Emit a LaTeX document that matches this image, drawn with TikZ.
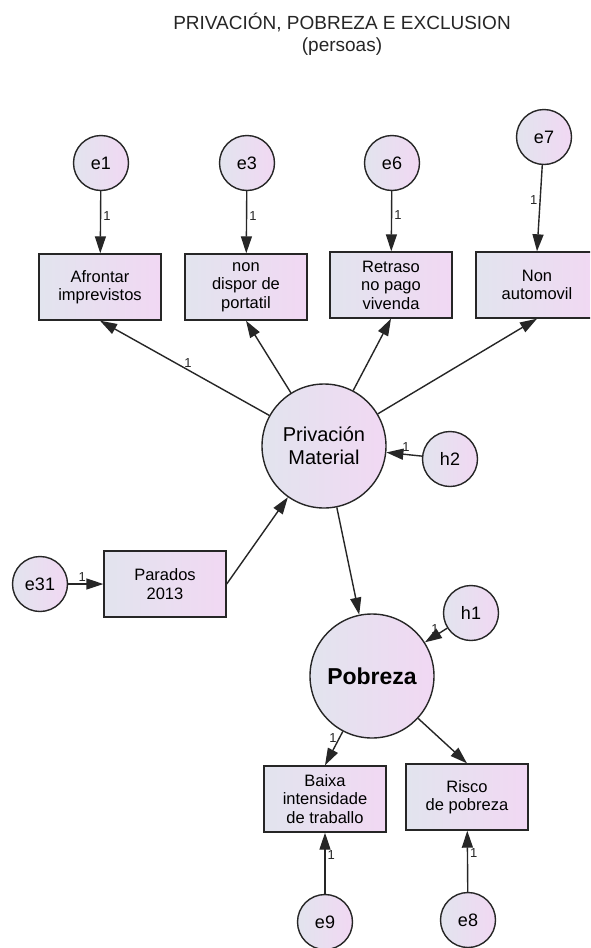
\documentclass[tikz,border=0pt]{standalone}
\usepackage{fontspec}
\setmainfont{Liberation Sans}
\usetikzlibrary{arrows.meta}
\definecolor{shL}{RGB}{226,228,238}
\definecolor{shR}{RGB}{241,216,243}
\tikzset{
  obsbox/.style={draw=black!85, line width=1.4pt, left color=shL, right color=shR,
    minimum width=122pt, minimum height=66pt, inner sep=0pt, align=center,
    font=\fontsize{16.5}{18.5}\selectfont},
  errc/.style={circle, draw=black!85, line width=1.4pt, left color=shL, right color=shR,
    minimum size=55pt, inner sep=0pt, font=\fontsize{18}{20}\selectfont},
  latc/.style={circle, draw=black!85, line width=1.4pt, left color=shL, right color=shR,
    minimum size=124pt, inner sep=0pt, align=center, font=\fontsize{20}{23}\selectfont},
  conn/.style={-{Triangle[length=17pt,width=11pt]}, line width=1.4pt, draw=black!85},
  wt/.style={font=\fontsize{13}{14}\selectfont, inner sep=2pt, text=black!85},
  ttl/.style={font=\fontsize{19}{21}\selectfont, text=black!85}
}
\begin{document}
\begin{tikzpicture}[x=1pt,y=-1pt]
\fill[white] (0,0) rectangle (590,948);
\clip (0,0) rectangle (590,948);
% title
\node[ttl] (t1) at (342,22) {PRIVACIÓN, POBREZA E EXCLUSION};
\node[ttl] (t2) at (342,47) {(persoas)};
% error circles top
\node[errc] (e1) at (101,163) {e1};
\node[errc] (e3) at (247,163) {e3};
\node[errc] (e6) at (392,163) {e6};
\node[errc] (e7) at (544,137) {e7};
% observed boxes top
\node[obsbox] (afr) at (100,287) {Afrontar\\imprevistos};
\node[obsbox] (dis) at (246,287) {non\\dispor de\\portatil};
\node[obsbox] (ret) at (391,285) {Retraso\\no pago\\vivenda};
\node[obsbox] (aut) at (537,285) {Non\\automovil};
% latent
\node[latc] (pm) at (324,446) {Privación\\Material};
\node[errc] (h2) at (450,459) {h2};
\node[errc] (e31) at (40,584) {e31};
\node[obsbox] (par) at (165,584) {Parados\\2013};
\node[latc, font=\fontsize{23}{26}\selectfont\bfseries] (pob) at (372,676) {Pobreza};
\node[errc] (h1) at (471,613) {h1};
\node[obsbox] (bai) at (325,799) {Baixa\\intensidade\\de traballo};
\node[obsbox] (ris) at (467,797) {Risco\\de pobreza};
\node[errc] (e9) at (325,922) {e9};
\node[errc] (e8) at (468,920) {e8};
% connectors
\draw[conn] (e1) -- node[wt, pos=0.4, right] {1} (afr);
\draw[conn] (e3) -- node[wt, pos=0.4, right] {1} (dis);
\draw[conn] (e6) -- node[wt, pos=0.4, right] {1} (ret);
\draw[conn] (e7) -- node[wt, pos=0.4, left] {1} (aut.north);
\draw[conn] (pm) -- node[wt, pos=0.48, above] {1} (afr.south);
\draw[conn] (pm) -- (dis.south);
\draw[conn] (pm) -- (ret.south);
\draw[conn] (pm) -- (aut.south);
\draw[conn] (h2) -- node[wt, pos=0.45, above] {1} (pm);
\draw[conn] (e31) -- node[wt, pos=0.4, above] {1} (par);
\draw[conn] (par.east) -- (pm);
\draw[conn] (pm) -- (pob);
\draw[conn] (h1) -- node[wt, pos=0.55, above] {1} (pob);
\draw[conn] (pob) -- node[wt, pos=0.2, left] {1} (bai.north);
\draw[conn] (pob) -- (ris.north);
\draw[conn] (e9) -- node[wt, pos=0.63, right] {1} (bai);
\draw[conn] (e8) -- node[wt, pos=0.63, right] {1} (ris);
\end{tikzpicture}
\end{document}
